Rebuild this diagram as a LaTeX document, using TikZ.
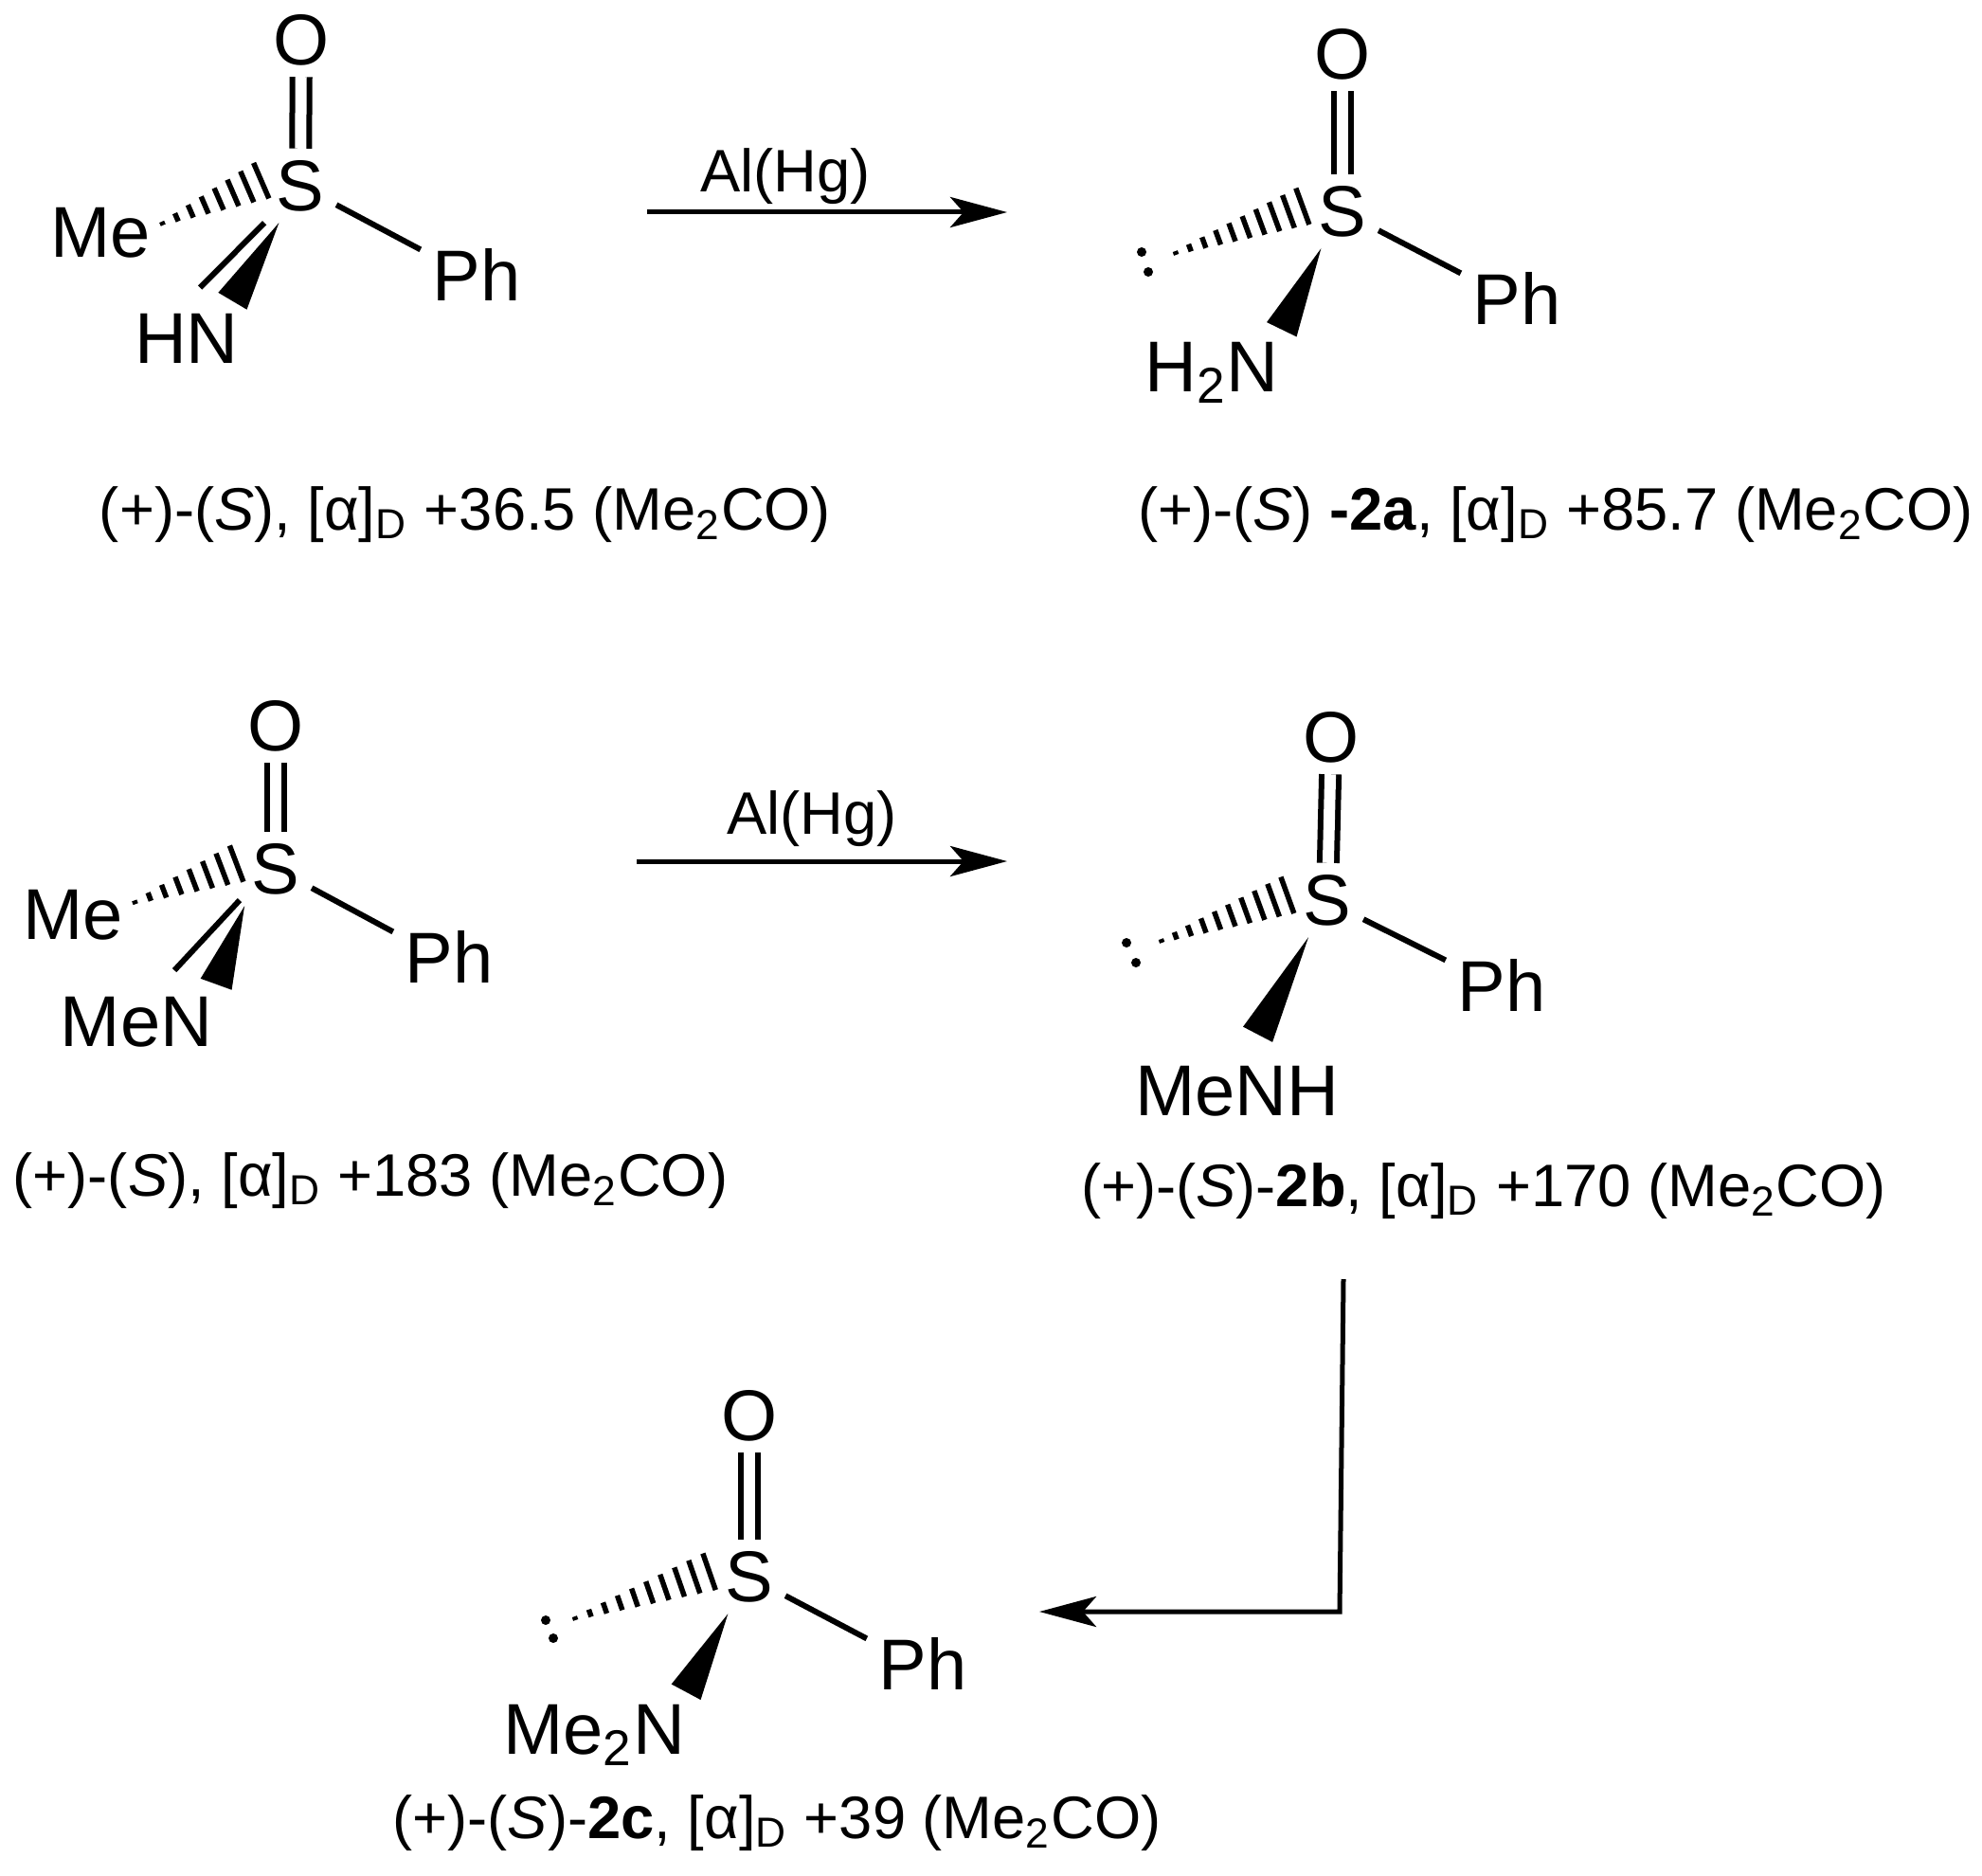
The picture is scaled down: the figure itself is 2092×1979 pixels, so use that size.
\documentclass[tikz,border=0pt]{standalone}
\usepackage{xcolor}
\usepackage{fontspec}
\setmainfont{Liberation Sans}
\usetikzlibrary{arrows.meta,calc}

\tikzset{
    atom/.style={inner sep=0.12cm,text height=0.53cm,text depth=0pt,font=\fontsize{21.6}{26}\selectfont},
    caption/.style={font=\fontsize{18}{22}\selectfont},
    bond/.style={line width=0.06cm},
    dblbond/.style={line width=0.06cm,double,double distance=0.12cm},
    hashtick/.style={line width=0.055cm},
    lonepair/.style={shape=circle,fill=black,inner sep=0pt,minimum size=0.1cm},
    rxnarrow/.style={line width=0.05cm,-{Stealth[length=0.6cm,width=0.32cm,inset=0.14cm]}}
}

\newcommand{\wedgebond}[2]{\fill ($(#2)!0.175cm!90:(#1)$) -- ($(#2)!0.175cm!-90:(#1)$) -- (#1) -- cycle;}
\newcommand{\hashbond}[3]{
    \foreach \i in {1,...,#3}{
        \pgfmathsetmacro\t{0.03+0.97*(\i-1)/(#3-1)}
        \pgfmathsetmacro\w{0.19*(1-\t)+0.02}
        \coordinate (tick) at ($(#1)!\t!(#2)$);
        \draw[hashtick] ($(tick)!\w cm!90:(#1)$) -- ($(tick)!\w cm!-90:(#1)$);
    }
}

\begin{document}
\begin{tikzpicture}[x=0.01cm,y=-0.01cm]
    \useasboundingbox (0,0) rectangle (2092,1979);

    \node[atom] (S1) at (317,196) {S};
    \node[atom] (O1) at (318,42) {O};
    \node[atom] (Me1) at (106,245) {Me};
    \node[atom] (HN1) at (197,357) {HN};
    \node[atom] (Ph1) at (503,291) {Ph};
    \node[caption] (cap1) at (491,543) {(+)-(\textit{S}), [α]\textsubscript{D} +36.5 (Me\textsubscript{2}CO)};

    \draw[dblbond] (S1) -- (O1);
    \draw[bond] (S1.-28) -- (Ph1.155);
    \draw[bond,shorten >=0.2cm] (S1.-134) -- (HN1.north);
    \wedgebond{S1.-120}{HN1.39}
    \hashbond{S1.170}{Me1.8}{8}

    \node[atom] (S2a) at (1417,223) {S};
    \node[atom] (O2a) at (1417,57) {O};
    \node[atom] (Ph2a) at (1601,316) {Ph};
    \node[atom] (N2a) at (1279,387) {H\textsubscript{2}N};
    \node[lonepair] (lp2a) at (1205,266) {};
    \node[lonepair] (lq2a) at (1212,287) {};
    \coordinate (tip2a) at (1241,267);
    \node[caption] (cap2a) at (1642,543) {(+)-(\textit{S}) \textbf{-2a}, [α]\textsubscript{D} +85.7 (Me\textsubscript{2}CO)};

    \draw[dblbond] (S2a) -- (O2a);
    \draw[bond] (S2a.-28) -- (Ph2a.155);
    \wedgebond{S2a.-120}{N2a.28}
    \hashbond{S2a.170}{tip2a}{10}

    \node[caption] (al1) at (829,186) {Al(Hg)};
    \coordinate (r1) at (683,224);
    \coordinate (p1) at (1063,224);
    \draw[rxnarrow] (r1) -- (p1);

    \node[atom] (S3) at (291,917) {S};
    \node[atom] (O3) at (291,766) {O};
    \node[atom] (Me3) at (77,965) {Me};
    \node[atom] (N3) at (144,1078) {MeN};
    \node[atom] (Ph3) at (474,1011) {Ph};
    \node[caption] (cap3) at (391,1246) {(+)-(\textit{S}), [α]\textsubscript{D} +183 (Me\textsubscript{2}CO)};

    \draw[dblbond] (S3) -- (O3);
    \draw[bond] (S3.-28) -- (Ph3.155);
    \draw[bond,shorten >=0.2cm] (S3.-139) -- (N3.56);
    \wedgebond{S3.-130}{N3.25}
    \hashbond{S3.170}{Me3.11}{8}

    \node[atom] (S2b) at (1401,950) {S};
    \node[atom] (O2b) at (1405,778) {O};
    \node[atom] (Ph2b) at (1585,1041) {Ph};
    \node[atom,inner ysep=0.32cm] (N2b) at (1306,1151) {MeNH};
    \node[lonepair] (lp2b) at (1189,995) {};
    \node[lonepair] (lq2b) at (1199,1016) {};
    \coordinate (tip2b) at (1226,993);
    \node[caption] (cap2b) at (1566,1257) {(+)-(\textit{S})-\textbf{2b}, [α]\textsubscript{D} +170 (Me\textsubscript{2}CO)};

    \draw[dblbond] (S2b) -- (O2b);
    \draw[bond] (S2b.-28) -- (Ph2b.155);
    \wedgebond{S2b.-117}{N2b.70}
    \hashbond{S2b.170}{tip2b}{10}

    \node[caption] (al2) at (857,864) {Al(Hg)};
    \coordinate (r2) at (672,909);
    \coordinate (p2) at (1063,909);
    \draw[rxnarrow] (r2) -- (p2);

    \node[atom] (S2c) at (791,1664) {S};
    \node[atom] (O2c) at (791,1494) {O};
    \node[atom] (Ph2c) at (974,1757) {Ph};
    \node[atom] (N2c) at (627,1825) {Me\textsubscript{2}N};
    \node[lonepair] (lp2c) at (576,1710) {};
    \node[lonepair] (lq2c) at (584,1729) {};
    \coordinate (tip2c) at (607,1708);
    \node[caption] (cap2c) at (820,1924) {(+)-(\textit{S})-\textbf{2c}, [α]\textsubscript{D} +39 (Me\textsubscript{2}CO)};

    \draw[dblbond] (S2c) -- (O2c);
    \draw[bond] (S2c.-28) -- (Ph2c.155);
    \wedgebond{S2c.-120}{N2c.22}
    \hashbond{S2c.170}{tip2c}{10}

    \coordinate (r3) at (1418,1350);
    \coordinate (k3) at (1414,1701);
    \coordinate (p3) at (1097,1701);
    \draw[rxnarrow] (r3) -- (k3) -- (p3);
\end{tikzpicture}
\end{document}
